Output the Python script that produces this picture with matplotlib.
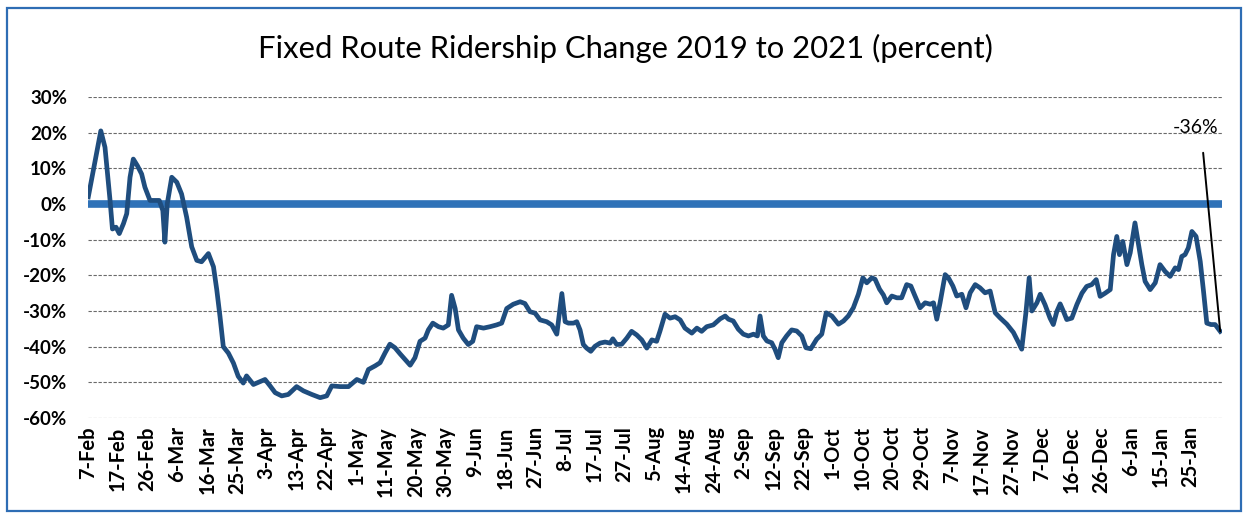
import matplotlib
matplotlib.use('Agg')
import matplotlib.pyplot as plt
from matplotlib.patches import Rectangle

plt.rcParams['font.family'] = ['Lato', 'DejaVu Sans']

# category axis: one tick label every 8 service days
tick_labels = ['7-Feb', '17-Feb', '26-Feb', '6-Mar', '16-Mar', '25-Mar', '3-Apr',
               '13-Apr', '22-Apr', '1-May', '11-May', '20-May', '30-May', '9-Jun',
               '18-Jun', '27-Jun', '8-Jul', '17-Jul', '27-Jul', '5-Aug', '14-Aug',
               '24-Aug', '2-Sep', '12-Sep', '22-Sep', '1-Oct', '10-Oct', '20-Oct',
               '29-Oct', '7-Nov', '17-Nov', '27-Nov', '7-Dec', '16-Dec', '26-Dec',
               '6-Jan', '15-Jan', '25-Jan']

# position along the axis (in tick intervals) and change in percent
t = [0.01, 0.43, 0.57, 0.74, 0.82, 0.94, 1.05, 1.19, 1.30, 1.41, 1.52, 1.66, 1.80,
     1.91, 2.08, 2.25, 2.39, 2.51, 2.58, 2.66, 2.81, 2.98, 3.14, 3.31, 3.48, 3.65,
     3.81, 4.04, 4.21, 4.32, 4.43, 4.54, 4.71, 4.88, 5.04, 5.21, 5.32, 5.55, 5.72,
     5.94, 6.11, 6.28, 6.50, 6.72, 7.00, 7.23, 7.51, 7.79, 8.01, 8.18, 8.46, 8.74,
     9.02, 9.24, 9.41, 9.63, 9.80, 9.97, 10.13, 10.30, 10.47, 10.64, 10.81, 10.97,
     11.14, 11.31, 11.42, 11.57, 11.76, 11.92, 12.09, 12.20, 12.32, 12.43, 12.59,
     12.76, 12.91, 13.04, 13.27, 13.49, 13.71, 13.88, 14.05, 14.27, 14.50, 14.66,
     14.83, 15.00, 15.17, 15.39, 15.56, 15.73, 15.90, 16.01, 16.12, 16.29, 16.40,
     16.51, 16.62, 16.73, 16.87, 17.01, 17.18, 17.35, 17.52, 17.61, 17.74, 17.91,
     18.08, 18.24, 18.41, 18.58, 18.75, 18.92, 19.08, 19.19, 19.36, 19.53, 19.70,
     19.87, 20.03, 20.26, 20.43, 20.59, 20.76, 20.98, 21.21, 21.38, 21.49, 21.65,
     21.82, 21.99, 22.16, 22.33, 22.46, 22.55, 22.66, 22.78, 22.94, 23.05, 23.16,
     23.28, 23.44, 23.61, 23.78, 23.95, 24.09, 24.25, 24.45, 24.62, 24.77, 24.96,
     25.18, 25.35, 25.51, 25.68, 25.85, 26.00, 26.13, 26.30, 26.41, 26.56, 26.69,
     26.80, 26.97, 27.14, 27.30, 27.47, 27.61, 27.75, 27.92, 28.09, 28.26, 28.37,
     28.48, 28.59, 28.76, 28.87, 29.02, 29.15, 29.32, 29.46, 29.60, 29.77, 29.93,
     30.10, 30.27, 30.44, 30.60, 30.83, 31.05, 31.22, 31.33, 31.47, 31.58, 31.67,
     31.84, 31.95, 32.11, 32.28, 32.39, 32.51, 32.62, 32.73, 32.84, 33.01, 33.18,
     33.35, 33.51, 33.68, 33.83, 33.96, 34.13, 34.30, 34.41, 34.52, 34.61, 34.72,
     34.86, 34.97, 35.13, 35.25, 35.36, 35.47, 35.64, 35.81, 35.97, 36.14, 36.31,
     36.48, 36.59, 36.70, 36.81, 36.92, 37.04, 37.18, 37.32, 37.43, 37.54, 37.68,
     37.82, 37.99]
change = [2.0, 20.5, 15.9, 1.0, -7.0, -6.5, -8.3, -5.5, -2.7, 7.5, 12.6, 10.7, 8.4,
          4.7, 1.0, 1.0, 1.0, -1.8, -10.7, 0.1, 7.5, 6.1, 2.8, -3.7, -12.0, -15.8,
          -16.2, -13.9, -17.6, -24.0, -31.6, -40.0, -41.8, -44.6, -48.3, -50.2, -48.2,
          -50.6, -50.0, -49.2, -51.0, -52.9, -53.8, -53.4, -51.2, -52.4, -53.4, -54.3,
          -53.8, -51.0, -51.2, -51.2, -49.2, -50.0, -46.4, -45.4, -44.5, -41.7, -39.3,
          -40.3, -42.0, -43.6, -45.2, -43.1, -38.5, -37.6, -35.3, -33.4, -34.4, -34.8,
          -33.9, -25.6, -29.3, -35.3, -37.6, -39.4, -38.5, -34.4, -34.8, -34.4, -33.9,
          -33.4, -29.3, -28.1, -27.4, -27.9, -30.2, -30.6, -32.5, -33.0, -33.9, -36.5,
          -25.1, -33.0, -33.4, -33.4, -33.0, -35.3, -39.4, -40.4, -41.3, -39.9, -39.0,
          -38.7, -39.0, -37.8, -39.4, -39.3, -37.6, -35.7, -36.7, -38.1, -40.4, -38.1,
          -38.5, -35.7, -30.9, -32.0, -31.6, -32.5, -34.8, -36.2, -34.8, -35.7, -34.4,
          -33.9, -32.2, -31.4, -32.3, -32.8, -35.1, -36.5, -37.0, -36.5, -37.0, -31.4,
          -37.0, -38.4, -38.9, -40.7, -43.1, -38.9, -37.0, -35.3, -35.6, -37.0, -40.3,
          -40.6, -37.9, -36.5, -30.5, -31.4, -33.7, -32.8, -31.4, -29.1, -25.3, -20.7,
          -22.1, -20.7, -21.1, -23.9, -25.5, -27.7, -25.8, -26.3, -26.3, -22.6, -23.0,
          -25.8, -29.1, -27.7, -28.1, -27.7, -32.3, -27.7, -19.8, -20.7, -23.0, -25.8,
          -25.3, -29.1, -24.9, -22.6, -23.5, -24.9, -24.4, -30.5, -31.9, -33.7, -36.0,
          -38.8, -40.7, -30.5, -20.7, -30.0, -27.7, -25.3, -28.2, -32.0, -33.8, -30.1,
          -28.0, -30.1, -32.4, -32.0, -28.2, -25.0, -23.1, -22.6, -21.2, -25.9, -25.0,
          -24.0, -14.2, -9.1, -14.2, -10.5, -17.0, -13.7, -5.3, -11.4, -17.0, -21.7,
          -24.0, -22.1, -17.0, -18.9, -20.3, -17.9, -18.4, -14.7, -14.2, -12.3, -7.7,
          -9.1, -16.1, -24.5, -33.4, -33.8, -33.8, -35.7]

title = 'Fixed Route Ridership Change 2019 to 2021 (percent)'
last_label = '-36%'

fig = plt.figure(figsize=(12.46, 5.19), dpi=100)
ax = fig.add_axes([88 / 1246, 1 - 418 / 519, 1134 / 1246, 321 / 519])

ax.axhline(0, color='#2f72b8', lw=5.5, zorder=2)
ax.plot(t, change, color='#1f4d7e', lw=3.4, zorder=3, solid_joinstyle='round')

ax.set_ylim(-60, 30)
ax.set_xlim(0, 38.05)
ax.set_yticks(range(-60, 31, 10))
ax.set_yticklabels(['%d%%' % v for v in range(-60, 31, 10)],
                   fontsize=13.5, fontweight='bold')
ax.set_xticks(range(len(tick_labels)))
ax.set_xticklabels(tick_labels, rotation=90, fontsize=14.5, fontweight='bold')
ax.tick_params(axis='both', length=0)
ax.tick_params(axis='y', pad=15)
ax.tick_params(axis='x', pad=6)
ax.yaxis.grid(True, color='#6a6a6a', lw=0.8, ls=(0, (3, 1.5)), zorder=1)
for s in ax.spines.values():
    s.set_visible(False)

ax.annotate(last_label, xy=(t[-1], change[-1]), xytext=(37.15, 21.4),
            ha='center', va='center', fontsize=14,
            arrowprops=dict(arrowstyle='-', color='black', lw=1.4,
                            relpos=(0.64, 0), shrinkA=10, shrinkB=0))

fig.text(0.502, 1 - 48 / 519, title, ha='center', va='center', fontsize=22.3)
fig.patches.append(Rectangle((7 / 1246, 8 / 519), 1234 / 1246, 503 / 519,
                             transform=fig.transFigure, fill=False,
                             edgecolor='#2e6db4', lw=1.6))

fig.savefig('out.png', dpi=100)
